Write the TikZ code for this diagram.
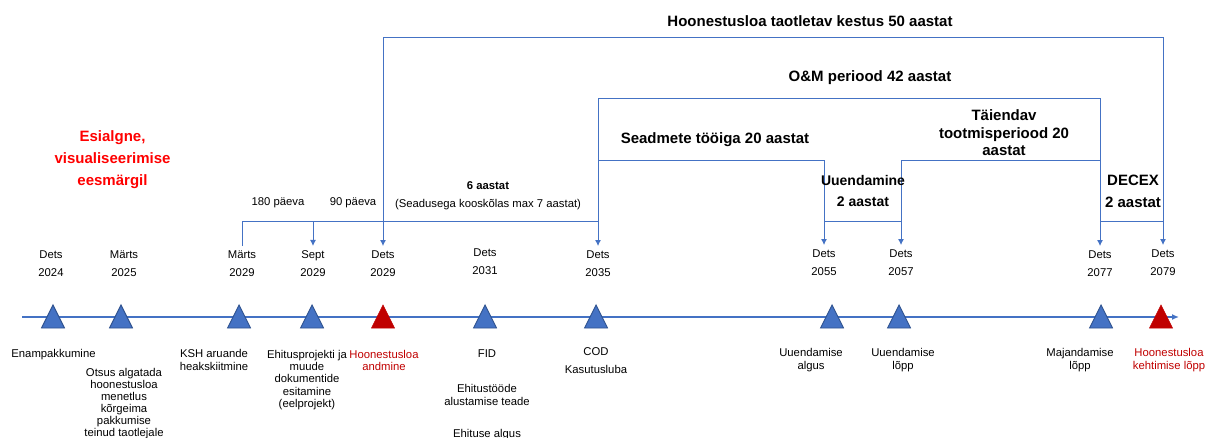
\documentclass[tikz,border=0pt]{standalone}
\usepackage{fontspec}
\setmainfont{Liberation Sans}
\usepackage{xcolor}
\usepackage{tikz}
\usetikzlibrary {
  arrows.meta,
  positioning,
}
\definecolor{tlblue}{HTML}{4472C4}
\definecolor{tlborder}{HTML}{2F528F}
\definecolor{hlred}{HTML}{C00000}
\definecolor{notered}{HTML}{FF0000}
\tikzset{
  timeline/.style = {
    -{Latex[length = 7pt, width = 6pt]},
    line width = 2.4pt,
    color = tlblue
  },
  bar/.style = {
    line width = 1pt,
    color = tlblue,
    arrows = {-{Latex[length = 6pt, width = 6pt]}}
  },
  date/.style = {
    align = center,
    inner sep = 0pt,
    outer sep = 5pt,
    font = \fontsize{11.3}{18}\selectfont
  },
  desc/.style = {
    align = center,
    anchor = north,
    inner sep = 0pt,
    font = \fontsize{11.3}{12.3}\selectfont
  },
  period/.style = {
    align = center,
    inner sep = 0pt,
    font = \fontsize{15}{17.5}\selectfont\bfseries
  },
  small/.style = {
    align = center,
    inner sep = 0pt,
    font = \fontsize{11.3}{18}\selectfont
  },
  bluetri/.style = {
    fill = tlblue,
    draw = tlborder,
    line width = 0.9pt
  },
  redtri/.style = {
    fill = hlred,
    draw = hlred,
    line width = 0.6pt
  },
}
\newcommand{\milestone}[3]{
  \coordinate (#1) at (#2,317);
  \filldraw[#3] (#1) ++(-11.5,11) -- ++(23,0) -- ++(-11.5,-23) -- cycle;
}

\begin{document}
\begin{tikzpicture}[x = 1pt, y = -1pt]
  \useasboundingbox (0,0) rectangle (1214,438);

  % timeline and milestones
  \coordinate (tl-start) at (22,317);
  \coordinate (tl-end) at (1179,317);
  \draw[timeline] (tl-start) -- (tl-end);
  \milestone{t1}{53}{bluetri}
  \milestone{t2}{121}{bluetri}
  \milestone{t3}{239}{bluetri}
  \milestone{t4}{312}{bluetri}
  \milestone{t5}{383}{redtri}
  \milestone{t6}{485}{bluetri}
  \milestone{t7}{596}{bluetri}
  \milestone{t8}{832}{bluetri}
  \milestone{t9}{899}{bluetri}
  \milestone{t10}{1101}{bluetri}
  \milestone{t11}{1161}{redtri}

  % dates
  \node[date] (d1) at (51,264) {Dets\\2024};
  \node[date] (d2) at (124,264) {Märts\\2025};
  \node[date] (d3) at (242,264) {Märts\\2029};
  \node[date] (d4) at (313,264) {Sept\\2029};
  \node[date] (d5) at (383,264) {Dets\\2029};
  \node[date] (d6) at (485,262) {Dets\\2031};
  \node[date] (d7) at (598,264) {Dets\\2035};
  \node[date] (d8) at (824,263) {Dets\\2055};
  \node[date] (d9) at (901,263) {Dets\\2057};
  \node[date] (d10) at (1100,264) {Dets\\2077};
  \node[date] (d11) at (1163,263) {Dets\\2079};

  % events
  \node[desc] (e1) at (53.5,349.5) {Enampakkumine};
  \node[desc, font = \fontsize{11.3}{12}\selectfont] (e2) at (124,368.5)
  {Otsus algatada\\hoonestusloa\\menetlus\\kõrgeima\\pakkumise\\teinud taotlejale};
  \node[desc, font = \fontsize{11.3}{12.8}\selectfont] (e3) at (214,349.5)
  {KSH aruande\\heakskiitmine};
  \node[desc] (e4) at (307,350) {Ehitusprojekti ja\\muude\\dokumentide\\esitamine\\(eelprojekt)};
  \node[desc, text = hlred] (e5) at (384,350) {Hoonestusloa\\andmine};
  \node[desc] (e6) at (487,349.5) {FID};
  \node[desc, font = \fontsize{11.3}{12.6}\selectfont] (e6b) at (487,384.5)
  {Ehitustööde\\alustamise teade};
  \node[desc] (e6c) at (487,429.5) {Ehituse algus};
  \node[desc, font = \fontsize{11.3}{18}\selectfont] (e7) at (596,347.5) {COD\\Kasutusluba};
  \node[desc, font = \fontsize{11.3}{12.5}\selectfont] (e8) at (811,348.5) {Uuendamise\\algus};
  \node[desc, font = \fontsize{11.3}{12.5}\selectfont] (e9) at (903,348.5) {Uuendamise\\lõpp};
  \node[desc, font = \fontsize{11.3}{12.5}\selectfont] (e10) at (1080,348.5) {Majandamise\\lõpp};
  \node[desc, font = \fontsize{11.3}{12.5}\selectfont, text = hlred] (e11) at (1169,348.5)
  {Hoonestusloa\\kehtimise lõpp};

  % bracket levels
  \coordinate (lvl50) at (0,38);
  \coordinate (lvlom) at (0,98.5);
  \coordinate (lvl20) at (0,160.5);
  \coordinate (lvl2) at (0,222);

  \draw[bar, arrows = {{Latex[length = 6pt, width = 6pt]}-{Latex[length = 6pt, width = 6pt]}}]
  (d5.north) -- (d5.north |- lvl50) -- (d11.north |- lvl50) -- (d11.north);
  \draw[bar, arrows = {{Latex[length = 6pt, width = 6pt]}-{Latex[length = 6pt, width = 6pt]}}]
  (d7.north) -- (d7.north |- lvlom) -- (d10.north |- lvlom) -- (d10.north);
  \draw[bar] (d7.north |- lvl20) -- (d8.north |- lvl20) -- (d8.north);
  \draw[bar] (d10.north |- lvl20) -- (d9.north |- lvl20) -- (d9.north);
  \draw[bar, arrows = -] (d8.north |- lvl2) -- (d9.north |- lvl2);
  \draw[bar, arrows = -] (d10.north |- lvl2) -- (d11.north |- lvl2);
  \draw[bar, arrows = -] (d3.north) -- (d3.north |- lvl2) -- (d7.north |- lvl2);
  \draw[bar] (d4.north |- lvl2) -- (d4.north);

  % period labels
  \node[period] (title) at (810,21) {Hoonestusloa taotletav kestus 50 aastat};
  \node[period] (om) at (870,78) {O\&M periood 42 aastat};
  \node[period] (life) at (715,140) {Seadmete tööiga 20 aastat};
  \node[period] (extra) at (1004,133) {Täiendav\\tootmisperiood 20\\aastat};
  \node[period, font = \fontsize{14}{21}\selectfont\bfseries] (renew) at (863,191)
  {Uuendamine\\2 aastat};
  \node[period, font = \fontsize{15}{22}\selectfont\bfseries] (decex) at (1133,191.5)
  {DECEX\\2 aastat};
  \node[small] (six) at (488,195.5) {\textbf{6 aastat}\\(Seadusega kooskõlas max 7 aastat)};
  \node[small] (days180) at (278,203) {180 päeva};
  \node[small] (days90) at (353,203) {90 päeva};
  \node[period, text = notered, font = \fontsize{15}{22}\selectfont\bfseries] (note) at (112.5,160)
  {Esialgne,\\visualiseerimise\\eesmärgil};
\end{tikzpicture}
\end{document}
